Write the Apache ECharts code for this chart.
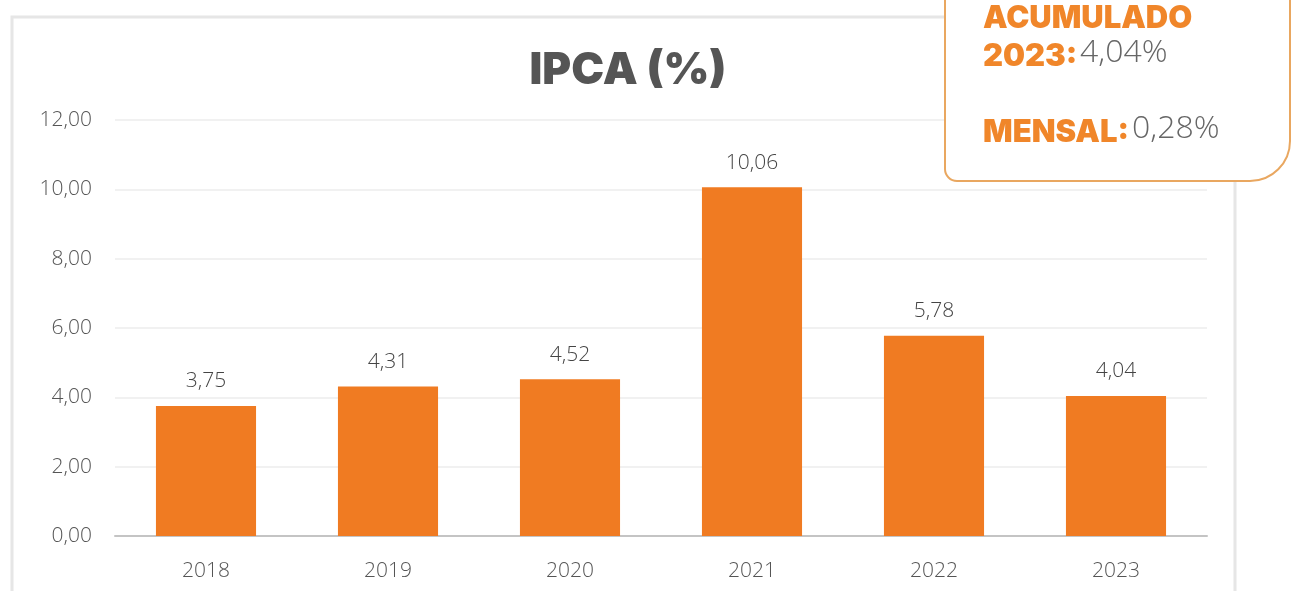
<!DOCTYPE html>
<html><head><meta charset="utf-8">
<script src="https://cdn.jsdelivr.net/npm/echarts@6/dist/echarts.min.js"></script>
<style>html,body{margin:0;padding:0;background:#fff}#c{width:1294px;height:591px}</style>
</head><body><div id="c"></div>
<script>
const categories = ['2018','2019','2020','2021','2022','2023'];
const ipcaValues = [3.75, 4.31, 4.52, 10.06, 5.78, 4.04];
const yTicks = [0, 2, 4, 6, 8, 10, 12];
const titleText = 'IPCA (%)';
const boxAcumLabel1 = 'ACUMULADO';
const boxAcumLabel2 = '2023:';
const boxAcumValue = '4,04%';
const boxMensalLabel = 'MENSAL:';
const boxMensalValue = '0,28%';

const fmt = v => Number(v).toFixed(2).replace('.', ',');
const chart = echarts.init(document.getElementById('c'), null, {renderer:'canvas'});
const orange = '#F07B22';
const lightFont = "'Open Sans', sans-serif";
chart.setOption({
  animation:false,
  title:{text:titleText, left:623, top:44, textAlign:'center',
    textStyle:{fontFamily:'Inter', fontWeight:900, fontSize:44, color:'#555555'}},
  grid:{left:115, right:87, top:120, bottom:55},
  xAxis:{type:'category', data:categories,
    axisLine:{lineStyle:{color:'#C4C4C4', width:2}}, axisTick:{show:false},
    axisLabel:{fontFamily:lightFont, fontWeight:300, fontSize:21, color:'#555', margin:25}},
  yAxis:{type:'value', min:yTicks[0], max:yTicks[yTicks.length-1], interval:yTicks[1]-yTicks[0],
    axisLine:{show:false}, axisTick:{show:false},
    splitLine:{lineStyle:{color:'#EDEDED', width:1.5}},
    axisLabel:{formatter:fmt, fontFamily:lightFont, fontWeight:300, fontSize:21, color:'#555', margin:23}},
  series:[{type:'bar', data:ipcaValues, barWidth:'55%', itemStyle:{color:orange},
    label:{show:true, position:'top', distance:14, formatter:p=>fmt(p.value),
      fontFamily:lightFont, fontWeight:300, fontSize:21, color:'#444'}}],
  graphic:[
    {type:'rect', z:-10, shape:{x:12, y:17, width:1223, height:600},
      style:{fill:'none', stroke:'#E6E6E6', lineWidth:3}},
    {type:'rect', z:10, shape:{x:945, y:-30, width:345, height:211, r:[30,0,40,12]},
      style:{fill:'#fff', stroke:'#E9A760', lineWidth:2}},
    {type:'text', z:11, left:983, top:3, style:{text:boxAcumLabel1, fontFamily:'Inter', fontWeight:900, fontSize:31, fill:'#F0862A'}},
    {type:'text', z:11, left:983, top:41, style:{text:boxAcumLabel2, fontFamily:'Inter', fontWeight:900, fontSize:31, fill:'#F0862A'}},
    {type:'text', z:11, left:1080, top:37, style:{text:boxAcumValue, fontFamily:lightFont, fontWeight:300, fontSize:32, fill:'#666'}},
    {type:'text', z:11, left:983, top:117, style:{text:boxMensalLabel, fontFamily:'Inter', fontWeight:900, fontSize:31, fill:'#F0862A'}},
    {type:'text', z:11, left:1132, top:113, style:{text:boxMensalValue, fontFamily:lightFont, fontWeight:300, fontSize:32, fill:'#666'}}
  ]
});
</script></body></html>
